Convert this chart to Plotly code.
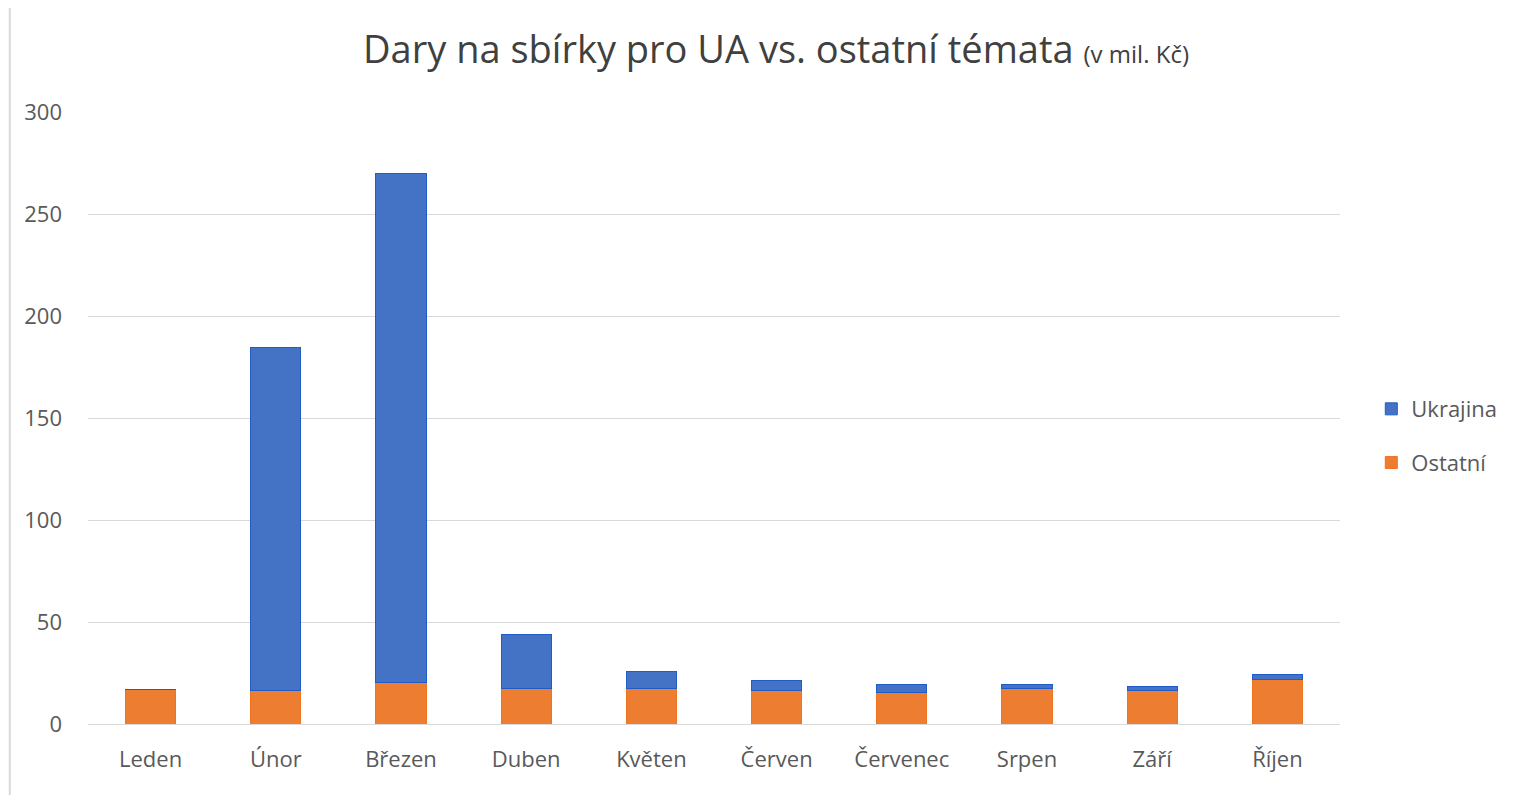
import plotly.graph_objects as go

months = ['Leden', 'Únor', 'Březen', 'Duben', 'Květen', 'Červen',
          'Červenec', 'Srpen', 'Září', 'Říjen']
ostatni = [16.7, 16.5, 20.2, 17.3, 17.2, 16.3, 15.3, 17.2, 16.2, 21.7]
ukrajina = [0.4, 168.2, 249.9, 26.7, 8.4, 5.1, 4.3, 2.4, 2.4, 2.5]
y_ticks = [0, 50, 100, 150, 200, 250, 300]

FONT = 'Open Sans'
GREY = '#595959'

fig = go.Figure()
fig.add_trace(go.Bar(
    x=months, y=ostatni, name='Ostatní', legendgroup='o', legendrank=2,
    marker=dict(color='#ED7D31', line=dict(color='#F07320', width=1)),
))
fig.add_trace(go.Bar(
    x=months, y=ukrajina, name='Ukrajina', legendgroup='u', legendrank=1,
    marker=dict(color='#4472C4', line=dict(color='#1F5BC9', width=1)),
))

fig.update_layout(
    barmode='stack',
    bargap=0.6,
    width=1536, height=795,
    margin=dict(l=80, r=204, t=104, b=79),
    paper_bgcolor='white', plot_bgcolor='white',
    font=dict(family=FONT, color=GREY, size=22),
    title=dict(
        text='Dary na sbírky pro UA vs. ostatní témata <span style="font-size:24px">(v mil. Kč)</span>',
        x=0.5, xanchor='center', y=0.947, yanchor='middle',
        font=dict(family=FONT, size=38, color='#404040'),
    ),
    legend=dict(
        x=1.025, y=0.4705, xanchor='left', yanchor='middle',
        traceorder='grouped', tracegroupgap=22,
        font=dict(size=22, color=GREY),
        itemwidth=30,
    ),
    shapes=[
        dict(type='line', xref='paper', yref='paper', x0=-0.0625, x1=-0.0625, y0=-0.2, y1=1.3,
             line=dict(color='#D9D9D9', width=2)),
    ],
)
fig.update_xaxes(showgrid=False, showline=False, ticks='', ticklabelstandoff=20,
                 tickfont=dict(size=22, color=GREY))
fig.update_yaxes(range=[0, 300], tickvals=y_ticks, showgrid=True, gridcolor='#D9D9D9',
                 gridwidth=1, zeroline=True, zerolinecolor='#D9D9D9', zerolinewidth=1,
                 ticks='', ticklabelstandoff=25, tickfont=dict(size=22, color=GREY))

fig.write_html('out.html')
